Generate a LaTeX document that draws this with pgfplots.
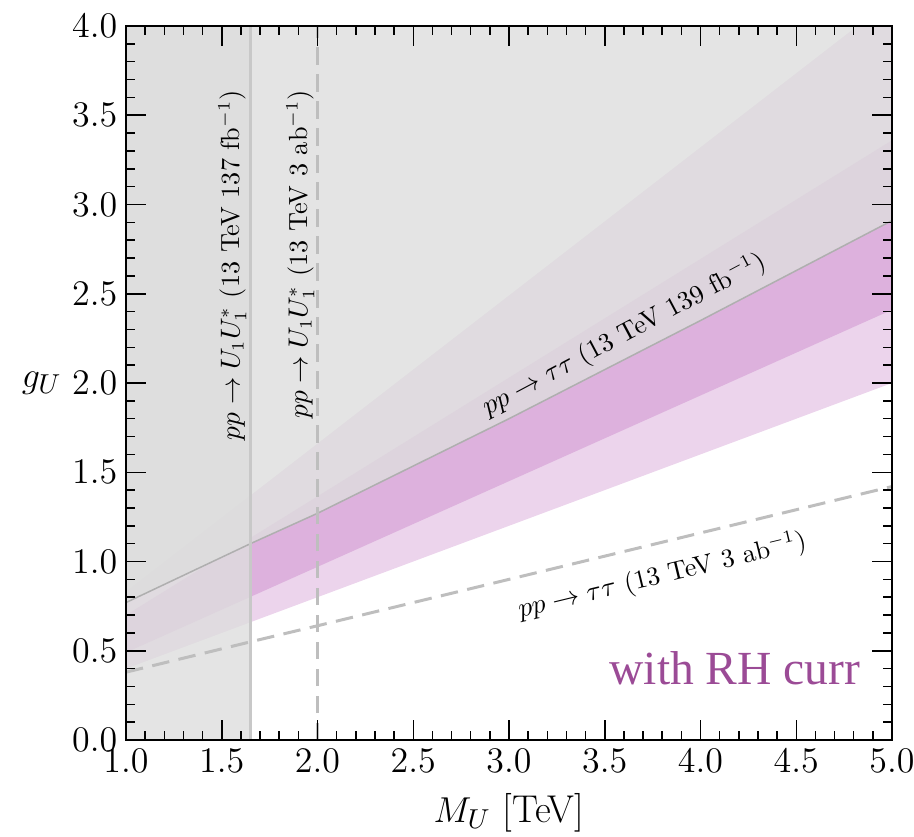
\documentclass[border=0pt]{standalone}
\usepackage{pgfplots}
\pgfplotsset{compat=1.18}
\usepackage{fontspec}
\newfontfamily\timesf{Liberation Serif}
\definecolor{bandpurple}{RGB}{160,40,160}
\definecolor{exgray}{RGB}{221,221,221}
\definecolor{linegray}{RGB}{175,175,175}
\definecolor{vgray}{RGB}{200,200,200}
\definecolor{dashgray}{RGB}{190,190,190}
\definecolor{rhpurple}{RGB}{155,75,150}
\begin{document}
\begin{tikzpicture}
\useasboundingbox (-50.4pt,-38.4pt) rectangle (315.2pt,296pt);
\begin{axis}[
  scale only axis, width=306.4pt, height=285.6pt,
  xmin=1, xmax=5, ymin=0, ymax=4,
  axis on top,
  xtick={1,1.5,...,5}, ytick={0,0.5,...,4},
  minor x tick num=4, minor y tick num=4,
  tick align=inside,
  major tick length=8pt, minor tick length=3.6pt,
  every tick/.style={black, line width=0.6pt},
  axis line style={line width=0.8pt},
  xticklabel style={/pgf/number format/.cd, fixed, fixed zerofill, precision=1},
  yticklabel style={/pgf/number format/.cd, fixed, fixed zerofill, precision=1},
  ticklabel style={font=\fontsize{13.5}{15}\selectfont},
  xlabel={$M_U$ [TeV]},
  ylabel={$g_U$},
  label style={font=\fontsize{15.5}{18}\selectfont},
  xlabel style={anchor=base, at={(axis description cs:0.5,-0.115)}},
  ylabel style={rotate=-90, anchor=center, at={(axis description cs:-0.11,0.5)}},
  clip=true,
]
% outer band (2 sigma)
\addplot[draw=none, fill=bandpurple, fill opacity=0.2] coordinates {(1,0.40) (5,2.00) (5,4.15) (1,0.83)} -- cycle;
% inner band (1 sigma)
\addplot[draw=none, fill=bandpurple, fill opacity=0.2] coordinates {(1,0.49) (5,2.41) (5,3.36) (1,0.70)} -- cycle;
% excluded region above pp -> tau tau (139 fb^-1)
\addplot[draw=none, fill=exgray, fill opacity=0.8] coordinates {(1,0.77) (1.65,1.10) (2,1.27) (3,1.80) (4,2.35) (5,2.91) (5,4) (1,4)} -- cycle;
% excluded region from pair production
\addplot[draw=none, fill=exgray, fill opacity=0.8] coordinates {(1,0) (1.65,0) (1.65,4) (1,4)} -- cycle;
% boundary lines
\addplot[linegray, line width=0.6pt] coordinates {(1,0.77) (1.65,1.10) (2,1.27) (3,1.80) (4,2.35) (5,2.91)};
\addplot[vgray, line width=0.9pt] coordinates {(1.65,0) (1.65,4)};
\addplot[dashgray, line width=1.2pt, dash pattern=on 7pt off 3.8pt] coordinates {(2,0) (2,4)};
\addplot[dashgray, line width=1.2pt, dash pattern=on 7pt off 3.8pt] coordinates {(1,0.38) (1.65,0.55) (2,0.64) (5,1.42)};
% labels
\node[rotate=90, font=\fontsize{10.5}{12}\selectfont] at (axis cs:1.555,2.66) {$pp\to U_1U_1^*$ (13 TeV 137 fb$^{-1}$)};
\node[rotate=90, font=\fontsize{10.5}{12}\selectfont] at (axis cs:1.91,2.72) {$pp\to U_1U_1^*$ (13 TeV 3 ab$^{-1}$)};
\node[rotate=28, font=\fontsize{10.5}{12}\selectfont] at (axis cs:3.60,2.27) {$pp\to\tau\tau$ (13 TeV 139 fb$^{-1}$)};
\node[rotate=13.6, font=\fontsize{10.5}{12}\selectfont] at (axis cs:3.80,0.92) {$pp\to\tau\tau$ (13 TeV 3 ab$^{-1}$)};
\node[text=rhpurple, font=\timesf\fontsize{19}{22}\selectfont] at (axis cs:4.18,0.40) {with RH curr};
\end{axis}
\end{tikzpicture}
\end{document}
